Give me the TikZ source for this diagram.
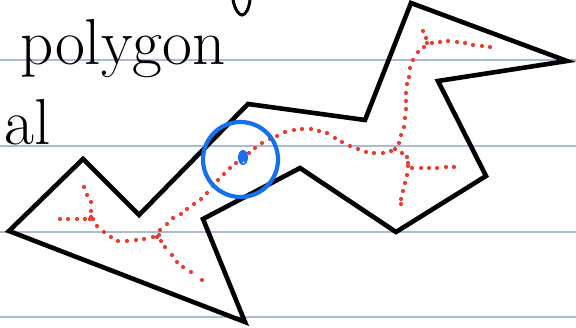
\documentclass[tikz,border=0pt]{standalone}
\definecolor{rulecol}{RGB}{172,186,212}
\definecolor{dotred}{RGB}{236,62,48}
\definecolor{ringblue}{RGB}{20,112,236}
\tikzset{
  ruleline/.style={draw=rulecol,line width=1.4pt},
  polyline/.style={draw=black,line width=4.6pt,line join=miter},
  handtext/.style={inner sep=0pt,font=\fontsize{65}{66}\selectfont,text=black},
  ink/.style={draw=black,line width=3pt,line cap=round},
  reddot/.style={fill=dotred},
  ring/.style={draw=ringblue,line width=4.2pt},
}
\begin{document}
\begin{tikzpicture}[x=1pt,y=-1pt]
\useasboundingbox (0,0) rectangle (576,328);
\clip (0,0) rectangle (576,328);
\fill[white] (0,0) rectangle (576,328);
% ruled lines
\foreach \yy in {60,146,232,317} \draw[ruleline] (0,\yy) -- (576,\yy);
% handwritten text
\node[handtext,anchor=base west] (poly) at (20,65) {polygon};
\node[handtext,anchor=base west] (al) at (4,145) {al};
\draw[ink] (233,0) .. controls (235,10) and (239,15) .. (242,15) .. controls (246,15) and (249,8) .. (250,0);
% polygon
\draw[polyline] (9,231) -- (83,159) -- (139,215) -- (248,104) -- (365,120) -- (411,3)
  -- (567,61) -- (438,81) -- (486,176) -- (396,232) -- (300,168) -- (203,219)
  -- (245,322) -- cycle;
% red dotted skeleton
\foreach \p in {(60,219),(68,219),(77,219),(85,219),(90,219),(93,219),
  (84,187),(87,195),(91,202),(91,211),(91,217),
  (97,226),(104,232),(111,237),(118,241),(127,241),(136,240),(144,239),(153,237),(157,237),(159,235),
  (161,241),(165,247),(172,255),(177,262),(183,267),(191,272),(202,280),
  (160,230),(167,224),(173,218),(181,214),(187,209),(194,204),(201,199),(207,193),(213,186),(218,180),(224,174),(230,168),(236,163),
  (249,153),(255,148),(262,143),(270,139),(277,136),(285,132),(294,130),(302,129),(311,129),(319,131),(327,133),(335,138),(342,142),(350,146),(358,149),(366,152),(374,153),(383,153),(391,151),(395,149),(399,143),
  (402,153),(407,157),(408,163),(408,166),
  (412,168),(421,168),(429,168),(437,168),(446,167),(454,167),
  (407,175),(405,183),(403,191),(401,199),(401,204),
  (401,135),(404,127),(405,118),(406,109),(406,101),(406,93),(407,84),(409,77),(410,68),(413,60),(418,52),(424,47),(427,43),
  (426,38),(423,31),
  (432,43),(440,42),(448,41),(457,42),(465,43),(473,45),(482,46),(490,47)}
  \fill[reddot] \p circle[radius=2.1];
% blue circle and point
\draw[ring] (240.5,159.5) circle[radius=37.5];
\fill[ringblue] (243,157.5) ellipse[x radius=5,y radius=7.5];
\fill[white] (243.5,162.5) circle[radius=1];
\end{tikzpicture}
\end{document}
